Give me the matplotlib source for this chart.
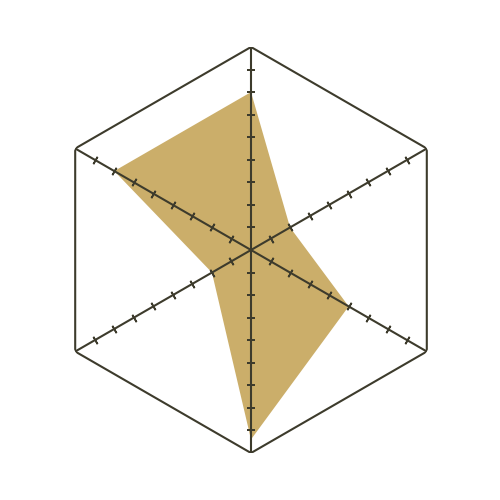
import numpy as np
import matplotlib
matplotlib.use("Agg")
import matplotlib.pyplot as plt

# Axes listed clockwise starting from the top
axis_names = ["A", "B", "C", "D", "E", "F"]
values = [7, 2, 5, 8.4, 2, 7]
r_max = 9
tick_values = [1, 2, 3, 4, 5, 6, 7, 8]

line_color = "#3d3b2c"
fill_color = "#cbae6a"

fig = plt.figure(figsize=(5, 5), dpi=100)
ax = fig.add_axes([0.096, 0.094, 0.812, 0.812], projection="polar")
ax.set_theta_offset(np.pi / 2)
ax.set_theta_direction(-1)
ax.set_ylim(0, r_max)
ax.grid(False)
ax.spines["polar"].set_visible(False)
ax.set_xticks([])
ax.set_yticks([])
ax.patch.set_alpha(0)

n = len(axis_names)
angles = np.arange(n) * 2 * np.pi / n

# data polygon
ang_c = np.append(angles, angles[0])
val_c = np.append(values, values[0])
ax.fill(ang_c, val_c, color=fill_color, lw=0, zorder=1)

# hexagon frame
ax.plot(ang_c, [r_max] * (n + 1), color=line_color, lw=1.5, zorder=3)

# axes and ticks
for a in angles:
    ax.plot([a, a], [0, r_max], color=line_color, lw=1.5, zorder=3,
            solid_capstyle="butt")
    disp = 90 - np.degrees(a)
    ax.plot([a] * len(tick_values), tick_values, linestyle="none",
            marker=(2, 2, disp), markersize=6, markeredgewidth=1.2,
            color=line_color, zorder=4)

fig.savefig("out.png", dpi=100)
